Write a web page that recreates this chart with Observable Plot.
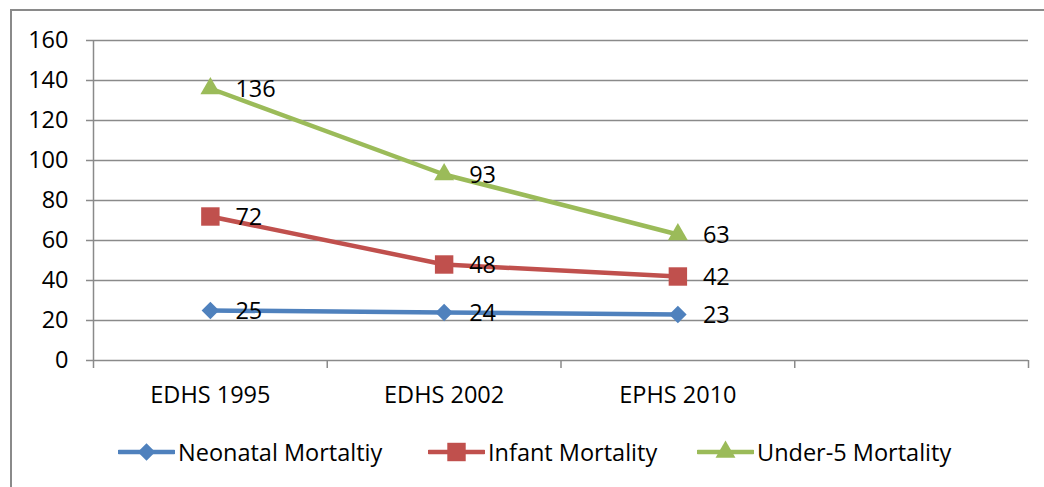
<!DOCTYPE html>
<html>
<head>
<meta charset="utf-8">
<script src="https://cdn.jsdelivr.net/npm/d3@7"></script>
<script src="https://cdn.jsdelivr.net/npm/@observablehq/plot@0.6"></script>
<style>
  html, body { margin: 0; padding: 0; background: #fff; overflow: hidden; }
  body { width: 1044px; height: 487px; position: relative; font-family: "Open Sans", sans-serif; }
  #frame { position: absolute; left: 10px; top: 9px; width: 2000px; height: 2000px; border-left: 2px solid #8a8a8a; border-top: 2px solid #8a8a8a; }
  #chart { position: absolute; left: 0; top: 0; }
  #legend { position: absolute; top: 437px; left: 0; width: 1044px; height: 30px; }
  .item { position: absolute; top: 0; display: flex; align-items: center; height: 30px; font-size: 23.5px; color: #000; white-space: nowrap; }
  .item svg { display: block; margin-right: 3px; }
</style>
</head>
<body>
<div id="frame"></div>
<div id="chart"></div>
<div id="legend"></div>
<script>
const categories = ["EDHS 1995", "EDHS 2002", "EPHS 2010"];
const seriesNames = ["Neonatal Mortaltiy", "Infant Mortality", "Under-5 Mortality"];
const neonatal = [25, 24, 23];
const infant = [72, 48, 42];
const under5 = [136, 93, 63];
const yTicks = [0, 20, 40, 60, 80, 100, 120, 140, 160];
const colors = ["#4F81BD", "#C0504D", "#9BBB59"];
const symbols = ["diamond2", "square", "triangle"];
const radii = [7.9, 10.4, 7.4];

const seriesValues = [neonatal, infant, under5];
const rows = [];
seriesValues.forEach((vals, s) => {
  vals.forEach((v, i) => rows.push({series: seriesNames[s], s, i: i + 0.5, cat: categories[i], value: v}));
});

const fontFamily = "'Open Sans', sans-serif";
const gridColor = "#8a8a8a";
const fs = 23.5;

const marks = [
  Plot.ruleY(yTicks.filter(d => d > 0), {stroke: gridColor, strokeWidth: 1.5, strokeOpacity: 1}),
  Plot.axisY({ticks: yTicks, tickSize: 7, tickPadding: 18, stroke: gridColor, strokeWidth: 1.5, fontSize: fs, label: null, fill: "#000"}),
  Plot.axisX({ticks: [0, 1, 2, 3, 4], tickSize: 8, tickFormat: () => "", stroke: gridColor, strokeWidth: 1.5, label: null}),
  Plot.axisX({ticks: [0.5, 1.5, 2.5], tickSize: 0, tickPadding: 26, tickFormat: d => categories[Math.floor(d)], fontSize: fs, label: null, fill: "#000"}),
  Plot.ruleX([0], {stroke: gridColor, strokeWidth: 1.5}),
  Plot.ruleY([0], {stroke: gridColor, strokeWidth: 1.5}),
];
seriesNames.forEach((name, s) => {
  const d = rows.filter(r => r.s === s);
  marks.push(Plot.line(d, {x: "i", y: "value", stroke: colors[s], strokeWidth: 4.5}));
  marks.push(Plot.dot(d, {x: "i", y: "value", symbol: () => symbols[s], fill: colors[s], stroke: "none", r: radii[s]}));
});
marks.push(Plot.text(rows, {x: "i", y: "value", text: d => String(d.value), textAnchor: "start", dx: 25, dy: 1, fontSize: fs, fill: "#000"}));

const chart = Plot.plot({
  width: 1044,
  height: 430,
  marginLeft: 93,
  marginRight: 16,
  marginTop: 40,
  marginBottom: 70,
  style: {fontFamily, background: "transparent", overflow: "visible"},
  x: {type: "linear", domain: [0, 4]},
  y: {domain: [0, 160]},
  symbol: {type: "identity"},
  marks
});
document.getElementById("chart").appendChild(chart);

// Legend
const legend = document.getElementById("legend");
const lefts = [118, 428, 697];
seriesNames.forEach((name, s) => {
  const item = document.createElement("div");
  item.className = "item";
  item.style.left = lefts[s] + "px";
  const sym = {diamond2: d3.symbolDiamond2, square: d3.symbolSquare, triangle: d3.symbolTriangle}[symbols[s]];
  const size = Math.PI * radii[s] * radii[s];
  item.innerHTML = `<svg width="57" height="24"><line x1="1" x2="56" y1="12" y2="12" stroke="${colors[s]}" stroke-width="4.5" stroke-linecap="round"/><path transform="translate(28.5,12)" d="${d3.symbol(sym, size)()}" fill="${colors[s]}"/></svg><span>${name}</span>`;
  legend.appendChild(item);
});
</script>
</body>
</html>
